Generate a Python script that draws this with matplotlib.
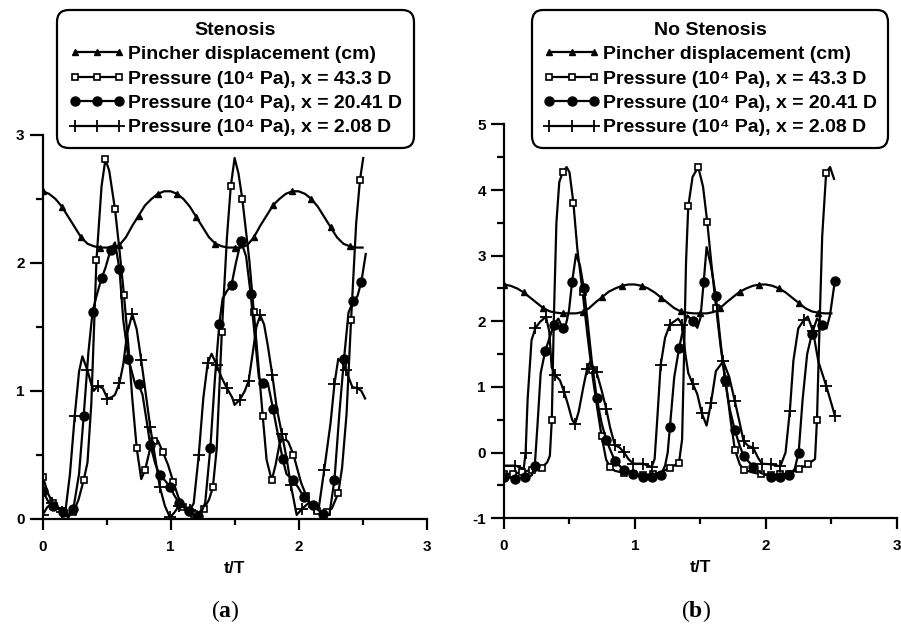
import matplotlib.pyplot as plt
import numpy as np

plt.rcParams['font.family'] = ['Liberation Sans', 'DejaVu Sans']
plt.rcParams['font.weight'] = 'bold'
plt.rcParams['axes.unicode_minus'] = False
plt.rcParams['mathtext.fontset'] = 'custom'
plt.rcParams['mathtext.bf'] = 'Liberation Serif:bold'

# pincher displacement (same in both cases), t/T step 0.05
pin_t = [0.00, 0.05, 0.10, 0.15, 0.20, 0.25, 0.30, 0.35, 0.40, 0.45,
         0.50, 0.55, 0.60, 0.65, 0.70, 0.75, 0.80, 0.85, 0.90, 0.95,
         1.00, 1.05, 1.10, 1.15, 1.20, 1.25, 1.30, 1.35, 1.40, 1.45,
         1.50, 1.55, 1.60, 1.65, 1.70, 1.75, 1.80, 1.85, 1.90, 1.95,
         2.00, 2.05, 2.10, 2.15, 2.20, 2.25, 2.30, 2.35, 2.40, 2.45, 2.50]
pin_y = [2.56, 2.54, 2.50, 2.44, 2.36, 2.28, 2.20, 2.15, 2.13, 2.12,
         2.12, 2.12, 2.14, 2.20, 2.29, 2.37, 2.45, 2.50, 2.54, 2.56,
         2.56, 2.54, 2.50, 2.44, 2.36, 2.28, 2.20, 2.15, 2.13, 2.12,
         2.12, 2.12, 2.14, 2.20, 2.29, 2.37, 2.45, 2.50, 2.54, 2.56,
         2.56, 2.54, 2.50, 2.44, 2.36, 2.28, 2.20, 2.15, 2.13, 2.12, 2.12]

# (a) stenosis
s43_t = [0.00, 0.04, 0.08, 0.12, 0.16, 0.20, 0.24, 0.28, 0.32, 0.35, 0.38, 0.42, 0.46, 0.49,
         0.52, 0.565, 0.60, 0.635, 0.67, 0.70, 0.735, 0.77, 0.80, 0.84, 0.87, 0.90, 0.94,
         0.98, 1.02, 1.06, 1.10, 1.14, 1.18, 1.22, 1.26, 1.30, 1.33, 1.36, 1.40, 1.44, 1.47,
         1.50, 1.53, 1.56, 1.615, 1.65, 1.685, 1.72, 1.75, 1.79, 1.82, 1.85, 1.88, 1.92,
         1.96, 2.02, 2.06, 2.10, 2.14, 2.18, 2.22, 2.26, 2.31, 2.34, 2.375, 2.41, 2.45,
         2.48, 2.505]
s43_y = [0.33, 0.20, 0.12, 0.09, 0.06, 0.03, 0.05, 0.15, 0.30, 0.44, 0.90, 2.02, 2.60, 2.81,
         2.72, 2.42, 2.10, 1.75, 1.35, 0.94, 0.55, 0.31, 0.38, 0.55, 0.61, 0.61, 0.52,
         0.42, 0.29, 0.17, 0.09, 0.06, 0.04, 0.05, 0.08, 0.15, 0.245, 0.55, 1.46, 2.20, 2.60,
         2.82, 2.70, 2.50, 2.02, 1.62, 1.21, 0.80, 0.46, 0.30, 0.42, 0.58, 0.64, 0.60,
         0.50, 0.28, 0.18, 0.10, 0.06, 0.04, 0.05, 0.08, 0.20, 0.40, 0.82, 1.55, 2.31,
         2.65, 2.82]

s20_t = [0.00, 0.04, 0.08, 0.12, 0.16, 0.20, 0.24, 0.284, 0.32, 0.357, 0.39, 0.42, 0.46,
         0.49, 0.53, 0.565, 0.60, 0.63, 0.67, 0.72, 0.75, 0.78, 0.81, 0.84, 0.88, 0.915,
         0.955, 0.995, 1.03, 1.065, 1.10, 1.14, 1.18, 1.21, 1.24, 1.27, 1.31, 1.345, 1.38,
         1.406, 1.44, 1.476, 1.51, 1.55, 1.59, 1.625, 1.66, 1.69, 1.725, 1.76, 1.80, 1.84,
         1.875, 1.905, 1.96, 2.00, 2.04, 2.08, 2.11, 2.15, 2.19, 2.24, 2.28, 2.32, 2.355,
         2.39, 2.425, 2.46, 2.49, 2.525]
s20_y = [0.22, 0.14, 0.10, 0.08, 0.05, 0.01, 0.08, 0.35, 0.80, 1.30, 1.62, 1.74, 1.88,
         1.96, 2.10, 2.16, 1.95, 1.55, 1.25, 1.06, 1.05, 0.97, 0.78, 0.58, 0.43, 0.34,
         0.30, 0.25, 0.18, 0.125, 0.09, 0.06, 0.03, 0.02, 0.05, 0.125, 0.55, 1.08, 1.52,
         1.72, 1.78, 1.83, 2.00, 2.17, 2.05, 1.76, 1.40, 1.10, 1.06, 1.06, 0.86, 0.65,
         0.47, 0.35, 0.30, 0.24, 0.17, 0.13, 0.11, 0.07, 0.04, 0.03, 0.30, 0.84, 1.25,
         1.61, 1.70, 1.74, 1.85, 2.07]

s2_t = [0.00, 0.035, 0.07, 0.11, 0.15, 0.18, 0.213, 0.25, 0.284, 0.31, 0.35, 0.38, 0.40,
        0.43, 0.47, 0.505, 0.54, 0.565, 0.60, 0.63, 0.66, 0.70, 0.735, 0.77, 0.805, 0.84,
        0.88, 0.915, 0.955, 0.995, 1.03, 1.065, 1.10, 1.15, 1.18, 1.22, 1.255, 1.29, 1.32,
        1.36, 1.40, 1.44, 1.48, 1.50, 1.54, 1.58, 1.61, 1.645, 1.67, 1.70, 1.73, 1.76,
        1.795, 1.83, 1.87, 1.905, 1.94, 1.985, 2.03, 2.075, 2.12, 2.16, 2.20, 2.25, 2.28,
        2.31, 2.34, 2.37, 2.42, 2.46, 2.49, 2.52]
s2_y = [0.03, 0.09, 0.12, 0.09, 0.05, 0.08, 0.35, 0.80, 1.15, 1.27, 1.16, 1.05, 1.00,
        1.04, 1.02, 0.94, 0.95, 0.97, 1.06, 1.21, 1.45, 1.60, 1.48, 1.24, 0.98, 0.72,
        0.47, 0.25, 0.10, 0.01, 0.05, 0.10, 0.10, 0.07, 0.12, 0.50, 0.94, 1.22, 1.29,
        1.20, 1.10, 1.02, 0.95, 0.89, 0.93, 1.00, 1.08, 1.32, 1.50, 1.59, 1.52, 1.35,
        1.12, 0.86, 0.66, 0.48, 0.26, 0.03, 0.08, 0.12, 0.09, 0.10, 0.38, 0.75, 1.05,
        1.25, 1.22, 1.16, 1.03, 1.02, 1.00, 0.94]

# (b) no stenosis
n43_t = [0.00, 0.07, 0.14, 0.211, 0.288, 0.33, 0.35, 0.365, 0.38, 0.40, 0.422, 0.45, 0.478,
         0.50, 0.53, 0.56, 0.60, 0.636, 0.67, 0.71, 0.745, 0.78, 0.81, 0.847, 0.915, 0.985,
         1.06, 1.14, 1.20, 1.27, 1.336, 1.36, 1.375, 1.39, 1.407, 1.44, 1.483, 1.52, 1.552,
         1.585, 1.62, 1.655, 1.695, 1.73, 1.763, 1.80, 1.83, 1.89, 1.96, 2.04, 2.11, 2.18,
         2.254, 2.32, 2.375, 2.39, 2.41, 2.43, 2.46, 2.49, 2.52]
n43_y = [-0.33, -0.32, -0.30, -0.26, -0.23, -0.15, -0.05, 0.50, 2.00, 3.50, 4.12, 4.28, 4.35,
         4.27, 3.80, 3.10, 2.45, 1.81, 1.25, 0.70, 0.25, -0.11, -0.22, -0.28, -0.31, -0.33,
         -0.34, -0.33, -0.30, -0.23, -0.16, 0.20, 1.50, 2.90, 3.75, 4.20, 4.35, 4.05, 3.51,
         2.85, 2.20, 1.60, 1.06, 0.50, 0.04, -0.18, -0.26, -0.30, -0.33, -0.34, -0.33, -0.32,
         -0.25, -0.18, -0.10, 0.50, 1.96, 3.30, 4.26, 4.35, 4.17]

n20_t = [0.00, 0.087, 0.163, 0.211, 0.235, 0.255, 0.28, 0.315, 0.35, 0.38, 0.415, 0.435,
         0.453, 0.475, 0.496, 0.52, 0.55, 0.58, 0.61, 0.636, 0.67, 0.708, 0.745, 0.78,
         0.847, 0.915, 0.985, 1.06, 1.127, 1.196, 1.23, 1.25, 1.267, 1.30, 1.338, 1.37,
         1.40, 1.44, 1.476, 1.50, 1.525, 1.547, 1.58, 1.618, 1.65, 1.687, 1.725, 1.763,
         1.80, 1.832, 1.905, 1.96, 2.04, 2.11, 2.18, 2.22, 2.25, 2.28, 2.315, 2.35, 2.39,
         2.43, 2.463, 2.49, 2.527]
n20_y = [-0.37, -0.40, -0.38, -0.35, -0.20, 0.40, 1.21, 1.55, 1.76, 1.95, 2.04, 1.95,
         1.89, 1.97, 2.16, 2.60, 3.02, 2.85, 2.50, 2.04, 1.40, 0.83, 0.45, 0.19,
         -0.13, -0.27, -0.33, -0.38, -0.38, -0.35, -0.20, 0.00, 0.39, 1.15, 1.60, 1.90,
         2.09, 2.00, 1.90, 2.05, 2.60, 3.13, 2.85, 2.38, 1.75, 1.10, 0.65, 0.34,
         0.10, -0.06, -0.22, -0.31, -0.37, -0.38, -0.35, -0.25, 0.00, 0.80, 1.50, 1.80, 2.04,
         1.95, 1.89, 2.10, 2.62]

n2_t = [0.00, 0.087, 0.15, 0.165, 0.18, 0.21, 0.24, 0.275, 0.32, 0.345, 0.364, 0.39, 0.427,
        0.46, 0.49, 0.52, 0.542, 0.57, 0.605, 0.635, 0.657, 0.707, 0.745, 0.78, 0.81, 0.847,
        0.88, 0.916, 0.95, 0.987, 1.06, 1.127, 1.15, 1.17, 1.196, 1.23, 1.267, 1.33, 1.36,
        1.385, 1.407, 1.44, 1.476, 1.51, 1.547, 1.58, 1.618, 1.674, 1.72, 1.763, 1.80, 1.83,
        1.865, 1.903, 1.94, 1.97, 2.04, 2.11, 2.15, 2.183, 2.21, 2.247, 2.29, 2.32, 2.36,
        2.40, 2.46, 2.527]
n2_y = [-0.20, -0.20, -0.25, 0.00, 0.80, 1.71, 1.90, 1.99, 2.07, 1.85, 1.30, 1.18, 1.10,
        0.92, 0.72, 0.50, 0.43, 0.62, 0.99, 1.28, 1.38, 1.22, 0.95, 0.67, 0.38, 0.11,
        0.08, 0.005, -0.10, -0.17, -0.17, -0.22, -0.10, 0.50, 1.33, 1.75, 1.95, 2.04, 1.95,
        1.50, 1.21, 1.05, 0.89, 0.60, 0.41, 0.75, 1.24, 1.39, 1.15, 0.78, 0.45, 0.17,
        0.10, 0.07, -0.08, -0.17, -0.18, -0.21, 0.00, 0.64, 1.40, 1.89, 2.02, 2.07, 1.85,
        1.39, 1.02, 0.56]

labels = ['Pincher displacement (cm)',
          'Pressure (10\u2074 Pa), x = 43.3 D',
          'Pressure (10\u2074 Pa), x = 20.41 D',
          'Pressure (10\u2074 Pa), x = 2.08 D']

xticks = [0, 1, 2, 3]
yticks_a = [0, 1, 2, 3]
yticks_b = [-1, 0, 1, 2, 3, 4, 5]


def marker_idx(t, gap=0.065):
    # keep markers roughly one sample spacing apart
    idx = [0]
    for i in range(1, len(t)):
        if t[i] - t[idx[-1]] >= gap:
            idx.append(i)
    return idx


def draw_panel(ax, series, ylim, yticks, title, leg_x):
    styles = [dict(marker='^', ms=4.5, mfc='black'),
              dict(marker='s', ms=5, mfc='white', mew=1.2),
              dict(marker='o', ms=6.5, mfc='black'),
              dict(marker='+', ms=8, mew=1.3)]
    handles = []
    for (t, y), st, lab in zip(series, styles, labels):
        gap = 0.14 if st['marker'] == '^' else 0.065
        h, = ax.plot(t, y, color='black', lw=1.6, mec='black',
                     markevery=marker_idx(t, gap), label=lab, **st)
        handles.append(h)

    ax.set_xlim(0, 3)
    ax.set_ylim(*ylim)
    ax.set_xticks(xticks, [str(v) for v in xticks], fontweight='bold', fontsize=11)
    ax.set_xticks([0.5, 1.5, 2.5], minor=True)
    ax.set_yticks(yticks, [str(v) for v in yticks], fontweight='bold', fontsize=11)
    ax.set_yticks(np.arange(ylim[0] + 0.5, ylim[1], 1.0), minor=True)
    for s in ['top', 'right']:
        ax.spines[s].set_visible(False)
    for s in ['left', 'bottom']:
        ax.spines[s].set_linewidth(1.6)
    ax.tick_params(axis='y', which='major', length=9.5, width=1.6, pad=3.5)
    ax.tick_params(axis='y', which='minor', length=5, width=1.6)
    ax.tick_params(axis='x', which='major', length=8, width=1.6, pad=7)
    ax.tick_params(axis='x', which='minor', length=4.5, width=1.6)
    ax.set_xlabel('t/T', fontsize=12.5, fontweight='bold', labelpad=5)

    leg = fig.legend(handles=handles, loc='upper center', bbox_to_anchor=(leg_x, 0.984),
                     title=title, title_fontproperties={'weight': 'bold', 'size': 14},
                     prop={'weight': 'bold', 'size': 14}, numpoints=3,
                     handlelength=2.9, handletextpad=0.15, labelspacing=0.35,
                     borderpad=0.6, borderaxespad=0, framealpha=1, fancybox=True,
                     edgecolor='black')
    leg.get_frame().set_linewidth(1.6)
    leg.get_frame().set_boxstyle('round', pad=0, rounding_size=0.6)


fig = plt.figure(figsize=(9.01, 6.25), dpi=100)
ax1 = fig.add_axes([0.0474, 0.170, 0.426, 0.614])
ax2 = fig.add_axes([0.5594, 0.171, 0.436, 0.630])

draw_panel(ax1, [(pin_t, pin_y), (s43_t, s43_y), (s20_t, s20_y), (s2_t, s2_y)],
           (0, 3), yticks_a, 'Stenosis', 0.2614)
draw_panel(ax2, [(pin_t, pin_y), (n43_t, n43_y), (n20_t, n20_y), (n2_t, n2_y)],
           (-1, 5), yticks_b, 'No Stenosis', 0.788)

fig.text(0.250, 0.022, r'($\mathbf{a}$)', family='Liberation Serif', fontweight='normal',
         fontsize=17, ha='center', va='center')
fig.text(0.772, 0.022, r'($\mathbf{b}$)', family='Liberation Serif', fontweight='normal',
         fontsize=17, ha='center', va='center')

fig.savefig('out.png', dpi=100)
